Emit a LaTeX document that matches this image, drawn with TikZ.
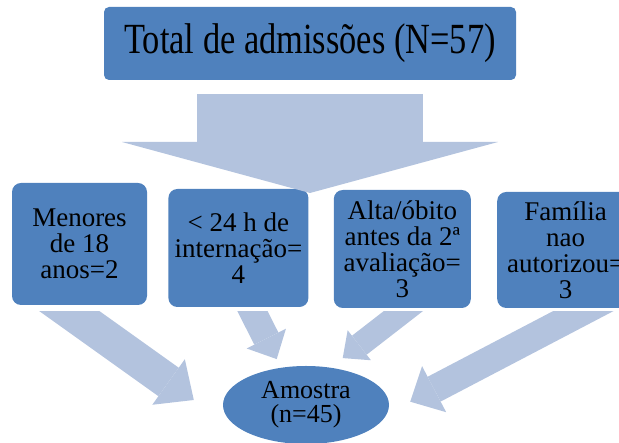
\documentclass[tikz,border=0pt]{standalone}
\usepackage{fontspec}
\setmainfont{Liberation Serif}
\newfontfamily\tallfont[FakeStretch=0.8]{Liberation Serif}
\usepackage{xcolor}
\usepackage{tikz}
\usetikzlibrary{shapes,arrows.meta,positioning,calc}

\definecolor{boxblue}{HTML}{4F81BD}
\definecolor{flowblue}{HTML}{B3C3DE}

\begin{document}
\begin{tikzpicture}[
    x=1pt, y=1pt,
    box/.style={rectangle, fill=boxblue, align=center, rounded corners=9pt, inner sep=0pt, font=\fontsize{27}{26}\selectfont},
    topbox/.style={rectangle, fill=boxblue, align=center, rounded corners=5pt, minimum width=412pt, minimum height=73pt, font=\tallfont\fontsize{43}{45}\selectfont},
    sample/.style={ellipse, fill=boxblue, align=center, inner sep=0pt, minimum width=166pt, minimum height=78pt, font=\fontsize{26}{24}\selectfont},
    bigflow/.style={draw=flowblue, line width=226pt, -{Triangle[width=376pt, length=51pt, line width=0pt]}},
    flow/.style n args={3}{draw=flowblue, line width=#1, -{Triangle[width=#2, length=#3, line width=0pt]}}
]
\clip (0,0) rectangle (619,443);

% Total
\node[topbox] (total) at (310,399.5) {Total de admissões (N=57)};

% Exclusions
\node[box, minimum width=135pt, minimum height=122pt] (menores) at (79.5,199) {Menores\\de 18\\anos=2};
\node[box, minimum width=140pt, minimum height=118pt, right=21pt of menores, yshift=-4pt] (internacao) {< 24 h de\\internação=\\4};
\node[box, minimum width=137pt, minimum height=118pt, right=25pt of internacao, yshift=-1pt] (alta) {Alta/óbito\\antes da 2ª\\avaliação=\\3};
\node[box, minimum width=137pt, minimum height=116pt, right=26pt of alta, yshift=-1pt] (familia) {Família\\nao\\autorizou=\\3};

% Sample
\node[sample] (amostra) at (306,38) {Amostra\\(n=45)};

% Arrows
\coordinate (split) at (310,250);
\draw[bigflow] ([yshift=-14pt]total.south) -- (split);

\begin{scope}
\clip (0,0) rectangle (619,131);
\draw[flow={35pt}{56pt}{31pt}] ([shift={(-39.4,15)}]menores.south) -- ([shift={(-29,5)}]amostra.west);
\draw[flow={27pt}{44pt}{23pt}] ([shift={(3.5,17)}]internacao.south) -- ([shift={(-29.3,6.7)}]amostra.north);
\draw[flow={24pt}{38pt}{21pt}] ([shift={(28,18)}]alta.south) -- ([shift={(36.7,7.7)}]amostra.north);
\draw[flow={28pt}{52pt}{27pt}] ([shift={(57.5,18)}]familia.south) -- ([shift={(21,3.3)}]amostra.east);
\end{scope}

\end{tikzpicture}
\end{document}
